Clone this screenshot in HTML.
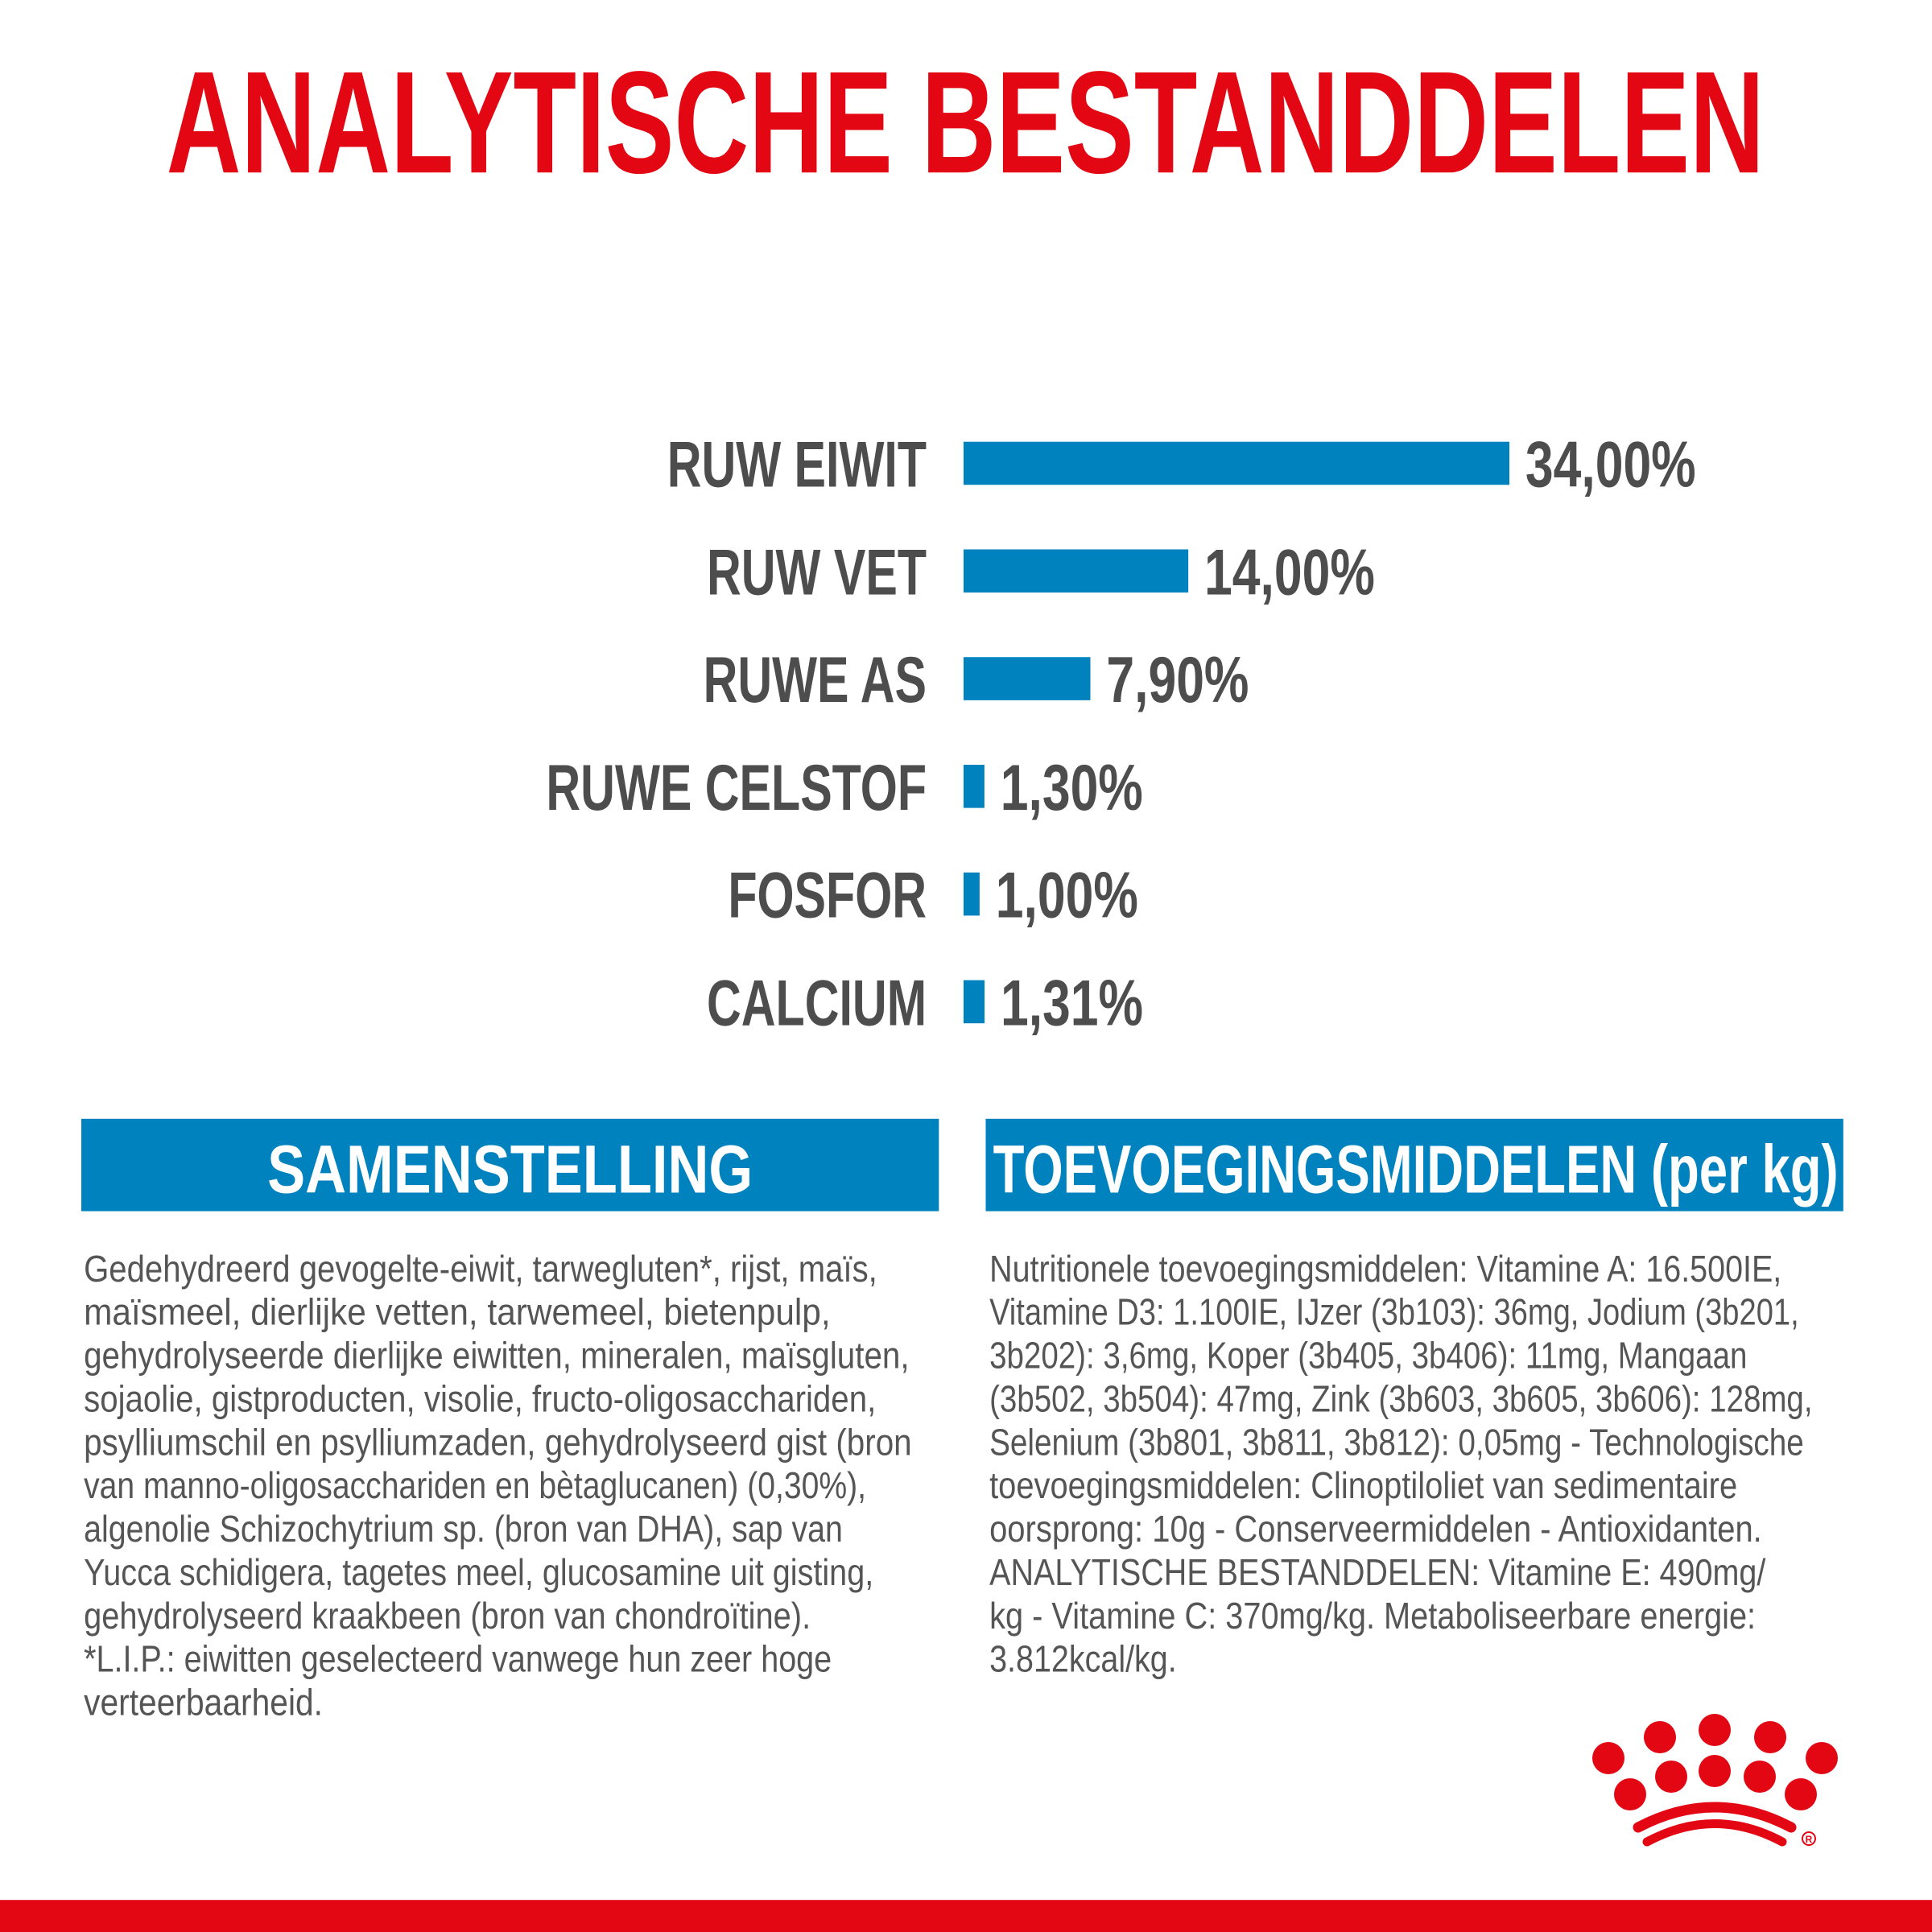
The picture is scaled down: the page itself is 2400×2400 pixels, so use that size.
<!DOCTYPE html>
<html><head><meta charset="utf-8"><style>
html,body{margin:0;padding:0;background:#fff;}
svg{display:block;}
text{font-family:"Liberation Sans",sans-serif;}
</style></head><body>
<svg id="chart" width="2400" height="2400" viewBox="0 0 2400 2400" xmlns="http://www.w3.org/2000/svg">
<g id="main" transform="scale(1.530612)">
  <text x="135" y="140" font-size="118" font-weight="bold" fill="#e30613" textLength="1297" lengthAdjust="spacingAndGlyphs">ANALYTISCHE BESTANDDELEN</text>
  <g id="bars"></g>

  <rect x="66" y="908" width="696" height="75" fill="#0082be"/>
  <text x="414" y="968" font-size="55" font-weight="bold" fill="#fff" text-anchor="middle" textLength="394" lengthAdjust="spacingAndGlyphs">SAMENSTELLING</text>
  <rect x="800" y="908" width="696" height="75" fill="#0082be"/>
  <text x="806" y="968" font-size="55" font-weight="bold" fill="#fff" textLength="686" lengthAdjust="spacingAndGlyphs">TOEVOEGINGSMIDDELEN (per kg)</text>

  <g id="left-text" font-size="30" fill="#555"></g>
  <g id="right-text" font-size="30" fill="#555"></g>

  <rect x="0" y="1542" width="1568" height="26" fill="#e30613"/>
</g>
<g fill="#e30613">
  <circle cx="2130" cy="2149" r="20"/>
  <circle cx="2062" cy="2158" r="20"/>
  <circle cx="2199" cy="2158" r="20"/>
  <circle cx="1998" cy="2184" r="20"/>
  <circle cx="2263" cy="2184" r="20"/>
  <circle cx="2076" cy="2207" r="20"/>
  <circle cx="2130" cy="2200" r="20"/>
  <circle cx="2186" cy="2207" r="20"/>
  <circle cx="2025" cy="2229" r="20"/>
  <circle cx="2237" cy="2229" r="20"/>
  <path d="M2035 2270 Q2130 2220 2225 2270" stroke="#e30613" stroke-width="13" fill="none" stroke-linecap="round"/>
  <path d="M2046 2288 Q2130 2243 2214 2288" stroke="#e30613" stroke-width="11" fill="none" stroke-linecap="round"/>
  <circle cx="2247" cy="2284" r="8" fill="none" stroke="#e30613" stroke-width="2"/>
  <text x="2247" y="2289" font-size="12" font-weight="bold" text-anchor="middle" fill="#e30613">R</text>
</g>
</svg>
<script>
const categories = ["RUW EIWIT","RUW VET","RUWE AS","RUWE CELSTOF","FOSFOR","CALCIUM"];
const values = [34.00, 14.00, 7.90, 1.30, 1.00, 1.31];
const valueLabels = ["34,00%","14,00%","7,90%","1,30%","1,00%","1,31%"];

const leftLines = ["Gedehydreerd gevogelte-eiwit, tarwegluten*, rijst, maïs,","maïsmeel, dierlijke vetten, tarwemeel, bietenpulp,","gehydrolyseerde dierlijke eiwitten, mineralen, maïsgluten,","sojaolie, gistproducten, visolie, fructo-oligosacchariden,","psylliumschil en psylliumzaden, gehydrolyseerd gist (bron","van manno-oligosacchariden en bètaglucanen) (0,30%),","algenolie Schizochytrium sp. (bron van DHA), sap van","Yucca schidigera, tagetes meel, glucosamine uit gisting,","gehydrolyseerd kraakbeen (bron van chondroïtine).","*L.I.P.: eiwitten geselecteerd vanwege hun zeer hoge","verteerbaarheid."];
const leftEnds = [712,674,738,711,740,703,684,709,658,675,262];
const rightLines = ["Nutritionele toevoegingsmiddelen: Vitamine A: 16.500IE,","Vitamine D3: 1.100IE, IJzer (3b103): 36mg, Jodium (3b201,","3b202): 3,6mg, Koper (3b405, 3b406): 11mg, Mangaan","(3b502, 3b504): 47mg, Zink (3b603, 3b605, 3b606): 128mg,","Selenium (3b801, 3b811, 3b812): 0,05mg - Technologische","toevoegingsmiddelen: Clinoptiloliet van sedimentaire","oorsprong: 10g - Conserveermiddelen - Antioxidanten.","ANALYTISCHE BESTANDDELEN: Vitamine E: 490mg/","kg - Vitamine C: 370mg/kg. Metaboliseerbare energie:","3.812kcal/kg."];
const rightEnds = [1446,1460,1418,1471,1464,1410,1430,1433,1425,955];

const NS = "http://www.w3.org/2000/svg";
const x0 = 782, pxPerUnit = 443/34;
function xScale(v){ return x0 + v*pxPerUnit; }
function yRow(i){ return 376 + i*87.4; }
const barsG = document.getElementById('bars');
categories.forEach((c,i)=>{
  const cy = yRow(i);
  const r = document.createElementNS(NS,'rect');
  r.setAttribute('x', x0); r.setAttribute('y', cy-17.5);
  r.setAttribute('width', xScale(values[i]) - x0); r.setAttribute('height', 35);
  r.setAttribute('fill', '#0082be');
  
  
  barsG.appendChild(r);

  const lt = document.createElementNS(NS,'text');
  lt.textContent = c;
  lt.setAttribute('font-size','53'); lt.setAttribute('font-weight','bold'); lt.setAttribute('fill','#4d4d4d');
  lt.setAttribute('y', cy+19);
  
  
  barsG.appendChild(lt);
  const lw = lt.getComputedTextLength()*0.73;
  lt.setAttribute('textLength', lw); lt.setAttribute('lengthAdjust','spacingAndGlyphs');
  lt.setAttribute('x', 752 - lw);

  const vt = document.createElementNS(NS,'text');
  vt.textContent = valueLabels[i];
  vt.setAttribute('font-size','53'); vt.setAttribute('font-weight','bold'); vt.setAttribute('fill','#4d4d4d');
  vt.setAttribute('y', cy+19);
  vt.setAttribute('x', xScale(values[i]) + 13);
  
  
  barsG.appendChild(vt);
  const vw = vt.getComputedTextLength()*0.77;
  vt.setAttribute('textLength', vw); vt.setAttribute('lengthAdjust','spacingAndGlyphs');
});

function addLines(gid, lines, ends, x){
  const g = document.getElementById(gid);
  lines.forEach((s,i)=>{
    const t = document.createElementNS(NS,'text');
    t.textContent = s;
    t.setAttribute('x', x); t.setAttribute('y', 1040 + i*35.2);
    t.setAttribute('textLength', ends[i]-x); t.setAttribute('lengthAdjust','spacingAndGlyphs');
    
    
    g.appendChild(t);
  });
}
addLines('left-text', leftLines, leftEnds, 68);
addLines('right-text', rightLines, rightEnds, 803);
</script>
</body></html>
